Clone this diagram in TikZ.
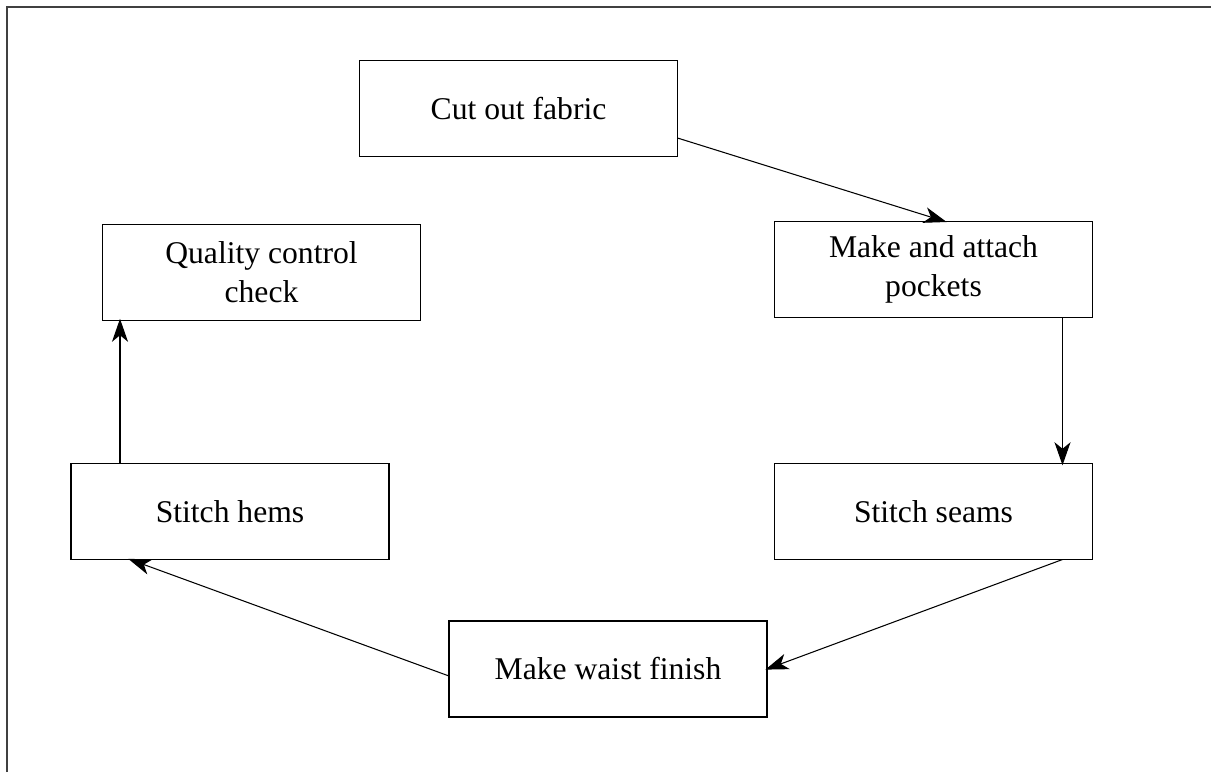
\documentclass[tikz,border=0pt]{standalone}
\usepackage{fontspec}
\setmainfont{Liberation Serif}
\usepackage{tikz}
\usetikzlibrary{arrows.meta,calc}

\tikzset{
  stepbox/.style={draw=black, line width=0.9pt, minimum width=6.36cm, minimum height=1.92cm,
    inner sep=0pt, outer sep=0pt, align=center, font=\fontsize{18}{22}\selectfont},
  flow/.style={-{Stealth[length=0.46cm,width=0.32cm,inset=0.13cm]}, line width=0.6pt, shorten >=-1pt}
}

\begin{document}
\begin{tikzpicture}
\useasboundingbox (0,0) rectangle (24.22,-15.44);
\draw[line width=1.2pt, black!75] (0.14,-15.44) -- (0.14,-0.14) -- (24.22,-0.14);

\node[stepbox] (cut) at (10.37,-2.17) {Cut out fabric};
\node[stepbox] (pockets) at (18.67,-5.39) {Make and attach\\pockets};
\node[stepbox] (check) at (5.23,-5.45) {Quality control\\check};
\node[stepbox] (hems) at (4.60,-10.23) {Stitch hems};
\node[stepbox] (seams) at (18.67,-10.23) {Stitch seams};
\node[stepbox] (waist) at (12.16,-13.38) {Make waist finish};

\draw[flow] ([yshift=-0.59cm]cut.east) -- ([xshift=0.23cm]pockets.north);
\draw[flow] ([xshift=2.58cm]pockets.south) -- ([xshift=2.58cm]seams.north);
\draw[flow] ([xshift=2.58cm]seams.south) -- (waist.east);
\draw[flow] ([yshift=-0.14cm]waist.west) -- ([xshift=-2cm]hems.south);
\draw[flow] ([xshift=-2.2cm]hems.north) -- ([xshift=-2.2cm]hems.north |- check.south);
\end{tikzpicture}
\end{document}
